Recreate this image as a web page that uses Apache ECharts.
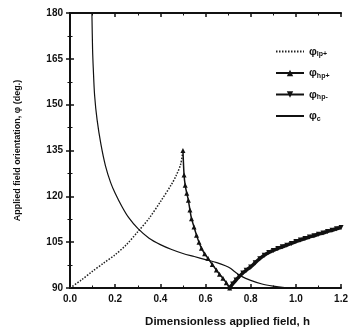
<!DOCTYPE html>
<html>
<head>
<meta charset="utf-8">
<script src="https://cdn.jsdelivr.net/npm/echarts@6/dist/echarts.min.js"></script>
<style>
  html, body { margin: 0; padding: 0; background: #fff; }
  #main { width: 351px; height: 333px; }
</style>
</head>
<body>
<div id="main"></div>
<script>
// Values: [h, phi (deg.)]
const phiLp = [[0, 90], [0.05, 92.6], [0.1, 95.5], [0.15, 98.2], [0.2, 100.9], [0.25, 104.2],
  [0.3, 108.4], [0.35, 112.8], [0.4, 118.2], [0.45, 124], [0.47, 126.8], [0.49, 130.5], [0.5, 135]];
const phiHpPlus = [[0.5, 135], [0.505, 127], [0.51, 123.6], [0.517, 121], [0.524, 118.7], [0.531, 115.5],
  [0.538, 112.7], [0.549, 110], [0.56, 107.3], [0.571, 105], [0.582, 103], [0.596, 101.2], [0.611, 99.7],
  [0.63, 97.7], [0.648, 95.9], [0.662, 94.5], [0.677, 93.2], [0.692, 91.7], [0.707, 90]];
const phiHpMinus = [[0.707, 90], [0.72, 91.3], [0.735, 92.6], [0.75, 93.8], [0.765, 94.9], [0.78, 95.8],
  [0.8, 96.9], [0.82, 98.3], [0.84, 99.6], [0.86, 100.7], [0.88, 101.6], [0.9, 102.3], [0.92, 102.9],
  [0.94, 103.5], [0.96, 104], [0.98, 104.6], [1.0, 105.2], [1.02, 105.7], [1.04, 106.2], [1.06, 106.7],
  [1.08, 107.1], [1.1, 107.6], [1.12, 108], [1.14, 108.5], [1.16, 108.9], [1.18, 109.4], [1.2, 109.8]];
const phiC = [[0.097, 180], [0.1, 168], [0.103, 162], [0.109, 153], [0.12, 145], [0.137, 137], [0.157, 130],
  [0.18, 124.5], [0.2, 121], [0.231, 116.5], [0.26, 113], [0.3, 109.5], [0.35, 106.3], [0.4, 104.2], [0.45, 102.6],
  [0.5, 101.3], [0.55, 100.3], [0.6, 99.3], [0.65, 98.3], [0.688, 97.3], [0.71, 96.5], [0.73, 95.3],
  [0.76, 93.8], [0.8, 92.5], [0.85, 91.3], [0.9, 90.6], [0.95, 90.1], [0.97, 90], [1.0, 90]];

const seriesNames = ['lp+', 'hp+', 'hp-', 'c'];
const xTicks = { min: 0, max: 1.2, interval: 0.2 };
const yTicks = { min: 90, max: 180, interval: 15 };

let myChart = echarts.init(document.getElementById('main'));

const font = 'Liberation Sans, Arial, sans-serif';
const axisCommon = {
  axisLine: { lineStyle: { color: '#111', width: 2 } },
  axisTick: { inside: true, length: 4, lineStyle: { color: '#111', width: 1.5 } },
  minorTick: { show: true, splitNumber: 2, length: 2.5, lineStyle: { color: '#111', width: 1 } },
  splitLine: { show: false }
};

let options = {
  backgroundColor: '#fff',
  animation: false,
  grid: { left: 70, right: 5, top: 13, bottom: 43 },
  legend: {
    orient: 'vertical',
    left: 270,
    top: 41,
    itemWidth: 28,
    itemHeight: 8,
    itemGap: 9.5,
    data: [
      { name: seriesNames[0], itemStyle: { opacity: 0 } },
      { name: seriesNames[1] },
      { name: seriesNames[2] },
      { name: seriesNames[3], itemStyle: { opacity: 0 } }
    ],
    formatter: (name) => '{p|φ}{s|' + name + '}',
    textStyle: {
      rich: {
        p: { fontFamily: font, fontSize: 11, fontWeight: 'bold', color: '#111' },
        s: { fontFamily: font, fontSize: 7, fontWeight: 'bold', color: '#111', padding: [6, 0, 0, 0] }
      }
    }
  },
  xAxis: [
    Object.assign({
      type: 'value', position: 'bottom',
      min: xTicks.min, max: xTicks.max, interval: xTicks.interval,
      name: 'Dimensionless applied field, h',
      nameLocation: 'middle', nameGap: 28,
      nameTextStyle: { fontFamily: font, fontSize: 11.5, fontWeight: 'bold', color: '#111', padding: [0, 0, 0, 44] },
      axisLabel: { fontFamily: font, fontSize: 10, fontWeight: 'bold', color: '#111', margin: 6,
        formatter: (v) => v.toFixed(1) }
    }, axisCommon),
    Object.assign({
      type: 'value', position: 'top',
      min: xTicks.min, max: xTicks.max, interval: xTicks.interval,
      axisLabel: { show: false }
    }, axisCommon)
  ],
  yAxis: [
    Object.assign({
      type: 'value', position: 'left',
      min: yTicks.min, max: yTicks.max, interval: yTicks.interval,
      name: 'Applied field orientation, φ (deg.)',
      nameLocation: 'middle', nameGap: 48,
      nameTextStyle: { fontFamily: font, fontSize: 9, fontWeight: 'bold', color: '#111' },
      axisLabel: { fontFamily: font, fontSize: 10, fontWeight: 'bold', color: '#111', margin: 7 }
    }, axisCommon),
    Object.assign({
      type: 'value', position: 'right',
      min: yTicks.min, max: yTicks.max, interval: yTicks.interval,
      axisLabel: { show: false }
    }, axisCommon)
  ],
  series: [
    {
      name: seriesNames[0], type: 'line', data: phiLp, smooth: 0.3,
      showSymbol: false,
      lineStyle: { color: '#222', width: 1.5, type: [1.5, 1.5] },
      itemStyle: { color: '#222' }
    },
    {
      name: seriesNames[1], type: 'line', data: phiHpPlus, smooth: 0.3,
      symbol: 'triangle', symbolSize: 5,
      lineStyle: { color: '#111', width: 1.5 },
      itemStyle: { color: '#111' }
    },
    {
      name: seriesNames[2], type: 'line', data: phiHpMinus, smooth: 0.3,
      symbol: 'triangle', symbolRotate: 180, symbolSize: 5,
      lineStyle: { color: '#111', width: 3.5 },
      itemStyle: { color: '#111' }
    },
    {
      name: seriesNames[3], type: 'line', data: phiC, smooth: 0.3,
      showSymbol: false,
      lineStyle: { color: '#111', width: 1.2 },
      itemStyle: { color: '#111' }
    }
  ]
};
myChart.setOption(options);
</script>
</body>
</html>
